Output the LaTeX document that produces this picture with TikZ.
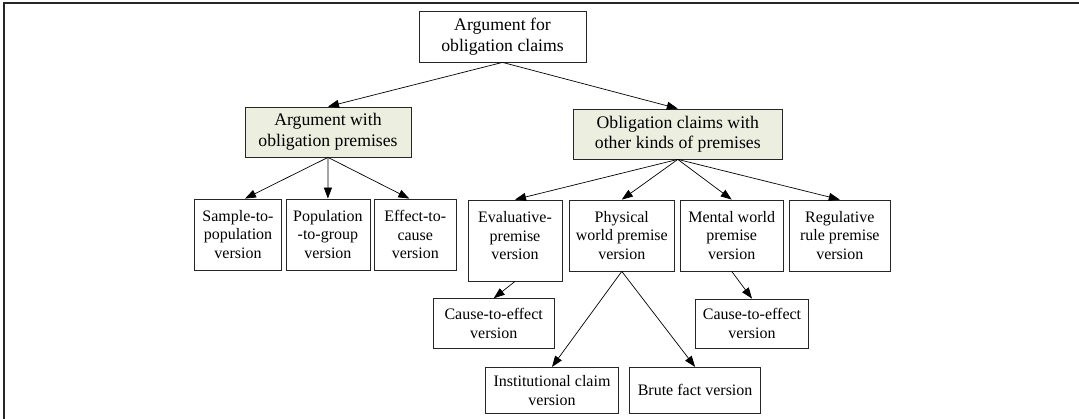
\documentclass[tikz,border=0pt]{standalone}
\usepackage{fontspec}
\setmainfont{Liberation Serif}
\usetikzlibrary{arrows.meta,calc}
\definecolor{greenfill}{HTML}{ECEEDF}
\tikzset{
  box/.style={draw=black!85, line width=0.8pt, align=center, inner sep=0pt, fill=white,
    font=\fontsize{16}{18.8}\selectfont},
  bigbox/.style={box, font=\fontsize{17.7}{20.5}\selectfont},
  greenbox/.style={bigbox, fill=greenfill},
  sz/.style 2 args={minimum width=#1, minimum height=#2},
  arr/.style={-{Triangle[length=11pt,width=8pt]}, line width=0.7pt, draw=black},
  frameline/.style={line width=1.3pt, draw=black!85}
}
\begin{document}
\begin{tikzpicture}[x=1pt,y=-1pt]
\useasboundingbox (0,0) rectangle (1079,419);
\coordinate (fa) at (4,419);
\coordinate (fb) at (4,3);
\coordinate (fc) at (1079,3);
\draw[frameline] (fa) -- (fb) -- (fc);

\node[bigbox, sz={167pt}{51pt}] (top) at (502.5,36.5) {Argument for\\obligation claims};
\node[greenbox, sz={166pt}{50pt}] (gl) at (328,132) {Argument with\\obligation premises};
\node[greenbox, sz={209pt}{50pt}] (gr) at (677.8,134) {Obligation claims with\\other kinds of premises};

\node[box, sz={87pt}{71pt}] (sample) at (238,234.5) {Sample-to-\\population\\version};
\node[box, sz={84pt}{71pt}] (pop) at (327.9,234.5) {Population\\-to-group\\version};
\node[box, sz={82pt}{71pt}] (eff) at (415.3,234.5) {Effect-to-\\cause\\version};

\node[box, sz={94pt}{81pt}] (eval) at (515,240.5) {Evaluative-\\premise\\version\\[-9pt]\mbox{}};
\node[box, sz={105.6pt}{71pt}] (phys) at (621.8,235.5) {Physical\\world premise\\version};
\node[box, sz={102.6pt}{71pt}] (ment) at (731.7,235.5) {Mental world\\premise\\version};
\node[box, sz={100.4pt}{71pt}] (reg) at (839.8,235.5) {Regulative\\rule premise\\version};

\node[box, sz={121.5pt}{49.6pt}] (cl) at (493.7,323.5) {Cause-to-effect\\version};
\node[box, sz={113.5pt}{49pt}] (cr) at (752,323.5) {Cause-to-effect\\version};
\node[box, sz={133pt}{46pt}] (inst) at (552,390.3) {Institutional claim\\version};
\node[box, sz={131.2pt}{46pt}] (brute) at (695.1,390.3) {Brute fact version};

\draw[arr] (top.south) -- (gl.north);
\draw[arr] (top.south) -- (gr.north);

\draw[arr] (gl.south) -- ($(sample.north)+(7,0)$);
\draw[arr] (gl.south) -- (pop.north);
\draw[arr] (gl.south) -- ($(eff.north)+(-6,0)$);

\draw[arr] (gr.south) -- (eval.north);
\draw[arr] (gr.south) -- (phys.north);
\draw[arr] (gr.south) -- (ment.north);
\draw[arr] (gr.south) -- (reg.north);

\draw[arr] (eval.south) -- (cl.north);
\draw[arr] (phys.south) -- (inst.north);
\draw[arr] (phys.south) -- (brute.north);
\draw[arr] (ment.south) -- (cr.north);
\end{tikzpicture}
\end{document}
